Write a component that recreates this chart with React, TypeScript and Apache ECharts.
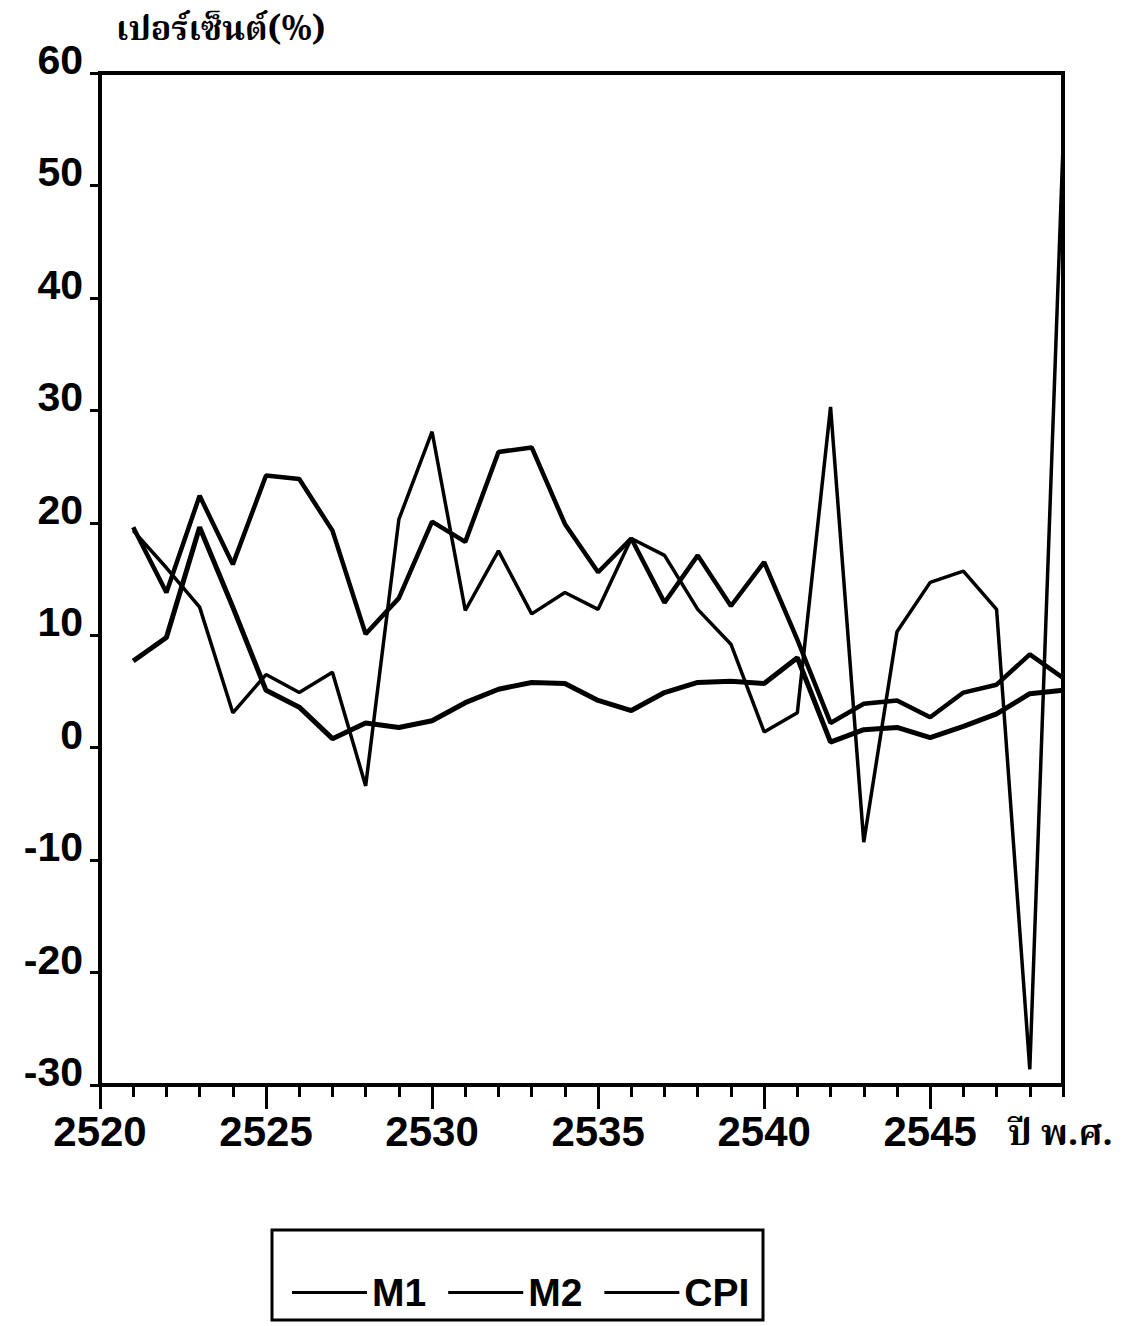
import React, { useEffect, useRef } from "react";
import * as echarts from "echarts";

const years = [2521, 2522, 2523, 2524, 2525, 2526, 2527, 2528, 2529, 2530, 2531, 2532, 2533, 2534, 2535, 2536, 2537, 2538, 2539, 2540, 2541, 2542, 2543, 2544, 2545, 2546, 2547, 2548, 2549];
const m1 = [19.3, 16.0, 12.5, 3.1, 6.5, 4.9, 6.7, -3.4, 20.3, 28.1, 12.2, 17.5, 11.9, 13.8, 12.3, 18.6, 17.1, 12.3, 9.2, 1.4, 3.1, 30.3, -8.4, 10.3, 14.7, 15.7, 12.3, -28.6, 53.5];
const m2 = [19.6, 13.8, 22.4, 16.3, 24.2, 23.9, 19.3, 10.1, 13.3, 20.1, 18.3, 26.3, 26.7, 19.9, 15.6, 18.6, 12.9, 17.1, 12.6, 16.5, 9.6, 2.2, 3.9, 4.2, 2.7, 4.9, 5.6, 8.3, 6.2];
const cpi = [7.7, 9.8, 19.6, 12.5, 5.1, 3.6, 0.8, 2.2, 1.8, 2.4, 4.0, 5.2, 5.8, 5.7, 4.2, 3.3, 4.9, 5.8, 5.9, 5.7, 8.0, 0.5, 1.6, 1.8, 0.9, 1.9, 3.0, 4.8, 5.1];
const majorYears = [2520, 2525, 2530, 2535, 2540, 2545];
const yTitle = "เปอร์เซ็นต์(%)";
const xTitle = "ปี พ.ศ.";

const SANS = "'Liberation Sans', Arial, sans-serif";
const THAI = "'Noto Serif Thai', 'Noto Sans Thai', 'Norasi', 'Garuda', 'Loma', 'Tlwg Typo', 'DejaVu Serif', serif";

export default function App() {
  const ref = useRef<HTMLDivElement>(null);
  useEffect(() => {
    document.body.style.margin = "0";
    const chart = echarts.init(ref.current!, undefined, { renderer: "svg" });
    const pair = (arr: number[]) => arr.map((v, i) => [years[i], v]);
    chart.setOption({
      animation: false,
      backgroundColor: "#fff",
      grid: { left: 100, right: 70, top: 73, bottom: 241, show: true, borderColor: "#000", borderWidth: 4, backgroundColor: "transparent" },
      xAxis: [
        {
          type: "value", min: 2520, max: 2549, interval: 1, position: "bottom",
          axisLine: { show: true, onZero: false, lineStyle: { color: "#000", width: 4 } },
          axisTick: { show: true, length: 12, lineStyle: { color: "#000", width: 3 } },
          splitLine: { show: false },
          axisLabel: {
            show: true, margin: 25, color: "#000", fontFamily: SANS, fontWeight: "bold", fontSize: 42,
            formatter: (v: number) => (majorYears.indexOf(v) >= 0 ? String(v) : ""),
          },
        },
        {
          type: "value", min: 2520, max: 2549, interval: 5, position: "bottom",
          axisLine: { show: false, onZero: false },
          axisTick: { show: true, length: 24, customValues: majorYears, lineStyle: { color: "#000", width: 3 } },
          axisLabel: { show: false },
          splitLine: { show: false },
        },
      ],
      yAxis: {
        type: "value", min: -30, max: 60, interval: 10,
        axisLine: { show: true, onZero: false, lineStyle: { color: "#000", width: 4 } },
        axisTick: { show: true, length: 10, lineStyle: { color: "#000", width: 3 } },
        splitLine: { show: false },
        axisLabel: { margin: 17, color: "#000", fontFamily: SANS, fontWeight: "bold", fontSize: 41, verticalAlign: "bottom", lineHeight: 26 },
      },
      legend: {
        data: ["M1", "M2", "CPI"], left: 287, top: 1268, icon: "rect", itemWidth: 75, itemHeight: 3, itemGap: 22,
        textStyle: { color: "#000", fontFamily: SANS, fontWeight: "bold", fontSize: 39 },
      },
      graphic: [
        { type: "rect", shape: { x: 272, y: 1230, width: 491, height: 90 }, style: { fill: "none", stroke: "#000", lineWidth: 3 } },
        { type: "text", x: 116, y: 14, style: { text: yTitle, fill: "#000", font: `bold 34px ${THAI}` } },
        { type: "text", x: 1008, y: 1117, style: { text: xTitle, fill: "#000", font: `bold 36px ${THAI}` } },
      ],
      series: [
        { name: "M1", type: "line", data: pair(m1), symbol: "none", lineStyle: { color: "#000", width: 3.5 }, itemStyle: { color: "#000" } },
        { name: "M2", type: "line", data: pair(m2), symbol: "none", lineStyle: { color: "#000", width: 4.5 }, itemStyle: { color: "#000" } },
        { name: "CPI", type: "line", data: pair(cpi), symbol: "none", lineStyle: { color: "#000", width: 5 }, itemStyle: { color: "#000" } },
      ],
    });
    return () => chart.dispose();
  }, []);
  return <div ref={ref} style={{ width: 1133, height: 1326 }} />;
}
